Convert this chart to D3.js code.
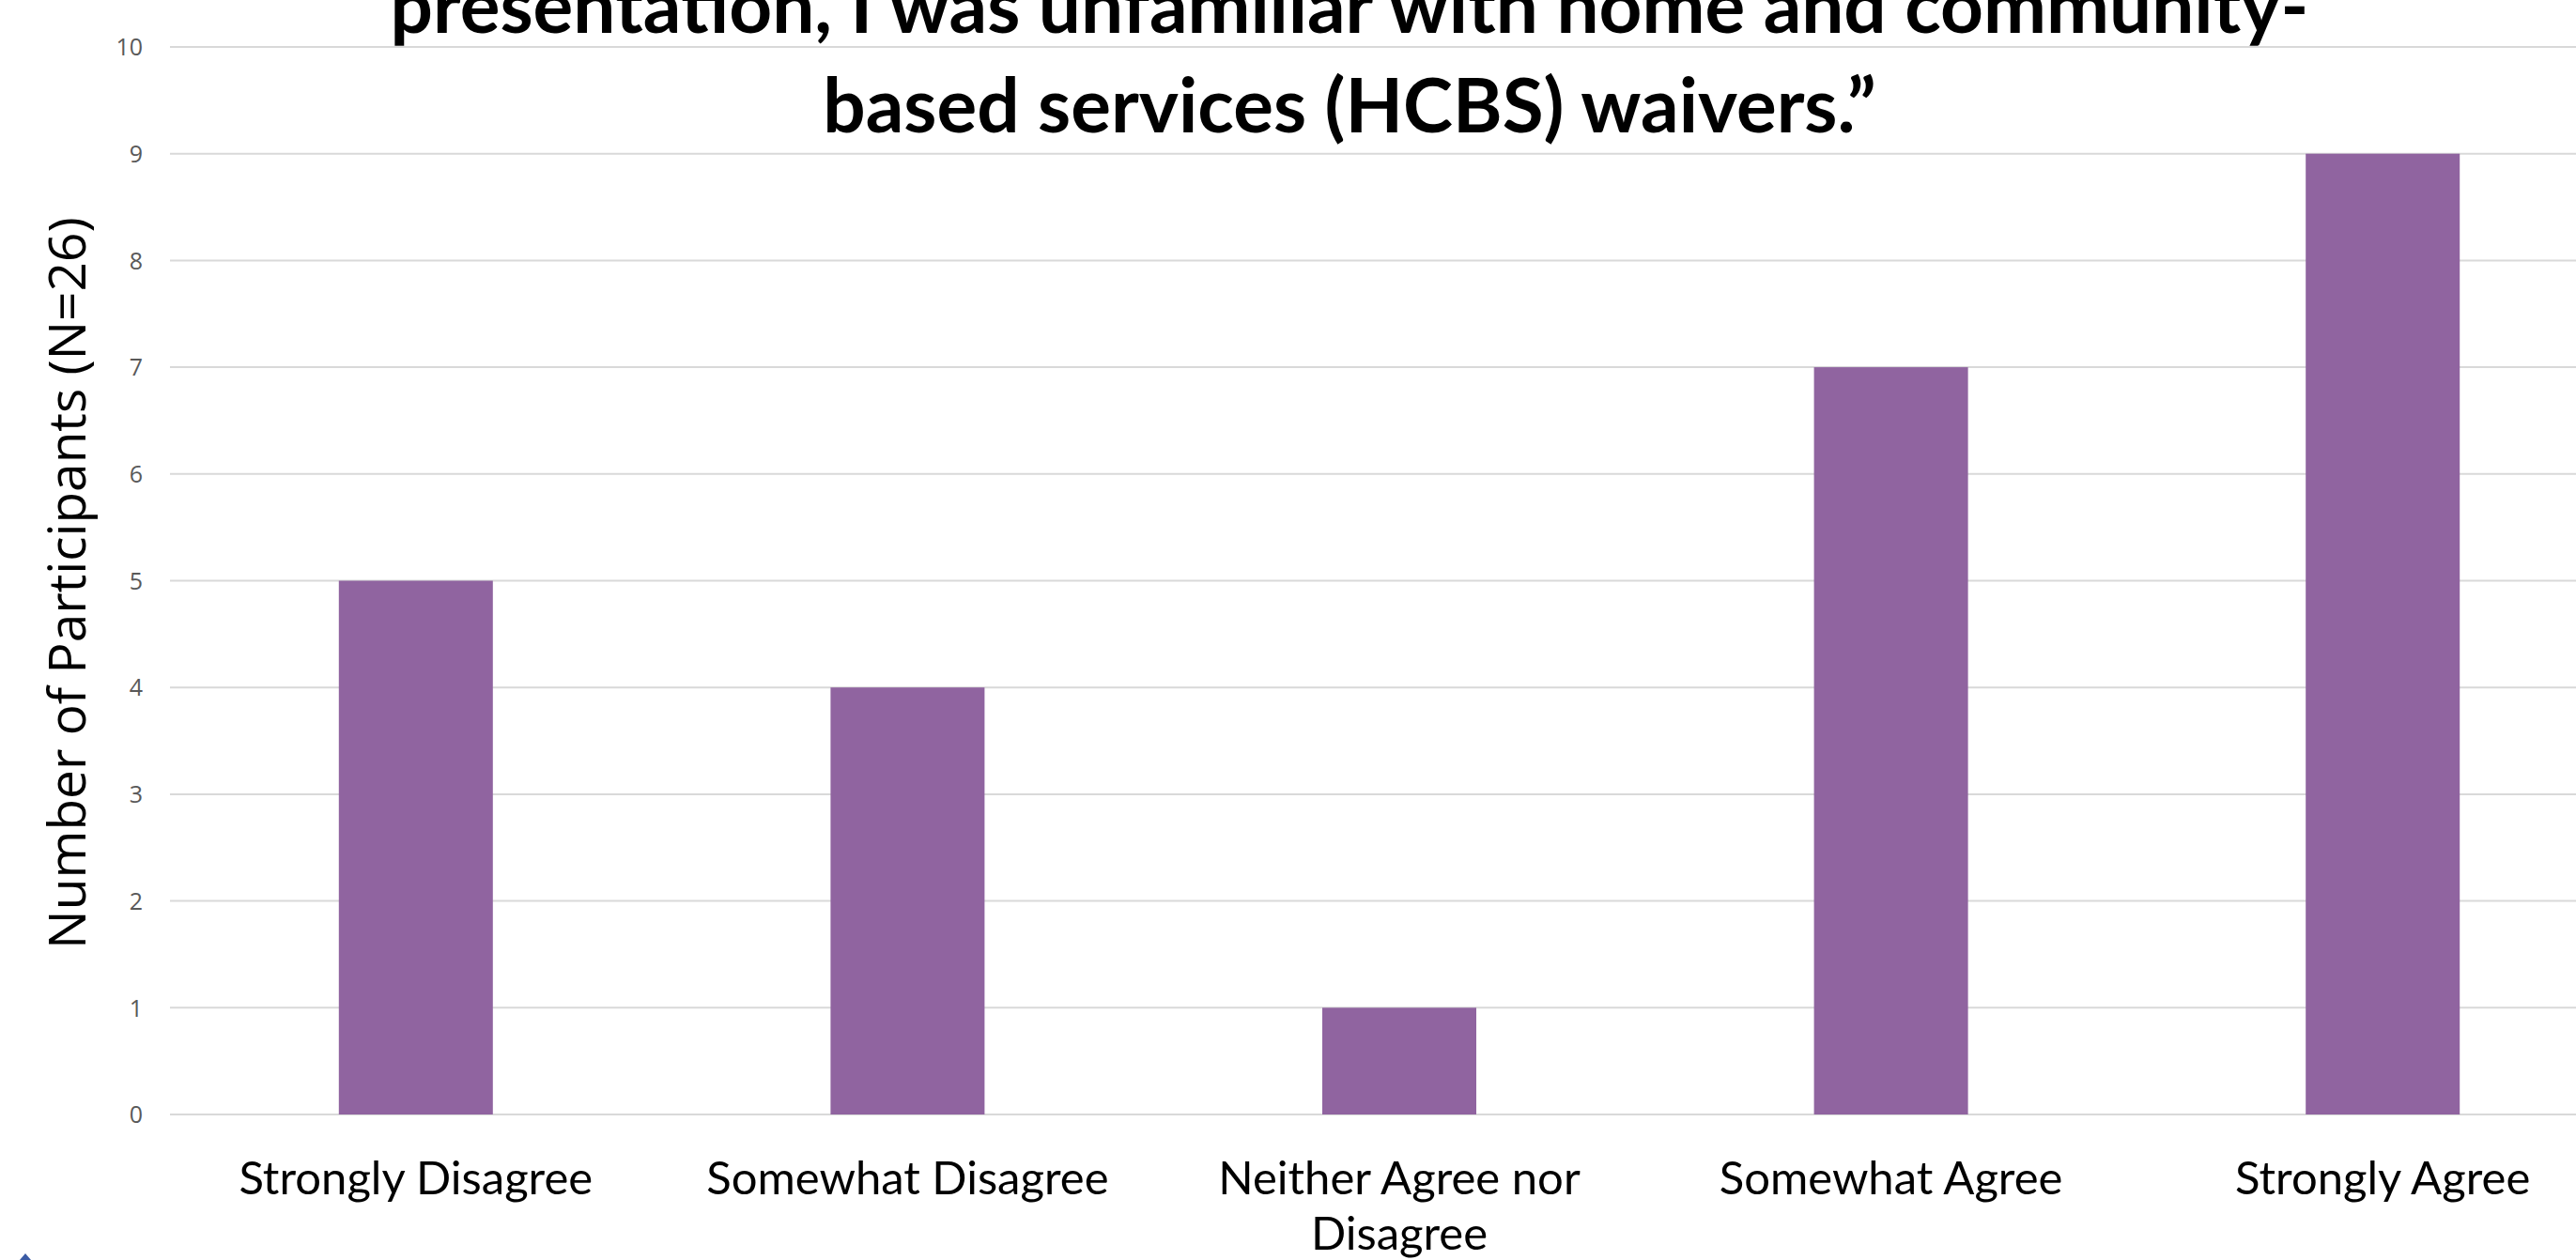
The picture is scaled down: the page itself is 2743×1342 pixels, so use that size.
<!DOCTYPE html>
<html>
<head>
<meta charset="utf-8">
<script src="https://cdn.jsdelivr.net/npm/d3@7"></script>
<style>
  html, body { margin: 0; padding: 0; background: #ffffff; overflow: hidden; }
  svg { display: block; }
</style>
</head>
<body>
<svg id="chart" width="2743" height="1342"></svg>
<script>
// ---- data ----
const categories = ["Strongly Disagree", "Somewhat Disagree", "Neither Agree nor Disagree", "Somewhat Agree", "Strongly Agree"];
const participants = [5, 4, 1, 7, 9];
const yTicks = [0, 1, 2, 3, 4, 5, 6, 7, 8, 9, 10];
const titleLines = ["presentation, I was unfamiliar with home and community-", "based services (HCBS) waivers.\u201D"];
const yAxisTitle = "Number of Participants (N=26)";

// ---- layout ----
const W = 2743, H = 1342;
const plotLeft = 181, step = 523.6;
const plotRight = plotLeft + step * categories.length;
const yTop = 50, yBottom = 1187;
const gap = 1 - 164 / step;

const svg = d3.select("#chart");

const x = d3.scaleBand()
  .domain(categories)
  .range([plotLeft, plotRight])
  .paddingInner(gap)
  .paddingOuter(gap / 2);

const y = d3.scaleLinear().domain([0, 10]).range([yBottom, yTop]);

// gridlines
const yAxis = d3.axisLeft(y).tickValues(yTicks).tickSize(0).tickPadding(0).tickFormat(d3.format("d"));
svg.append("g")
  .selectAll("line.grid")
  .data(yTicks)
  .join("line")
  .attr("class", "grid")
  .attr("x1", plotLeft)
  .attr("x2", W)
  .attr("y1", d => y(d))
  .attr("y2", d => y(d))
  .attr("stroke", "#d9d9d9")
  .attr("stroke-width", 2);

// y tick labels via axis
const gy = svg.append("g")
  .attr("transform", `translate(152,0)`)
  .call(yAxis);
gy.select(".domain").remove();
gy.selectAll("text")
  .attr("x", 0)
  .attr("dy", "0.35em")
  .attr("font-family", "'Open Sans', sans-serif")
  .attr("font-size", 25)
  .attr("fill", "#595959")
  .attr("text-anchor", "end");

// bars
svg.append("g")
  .selectAll("rect")
  .data(categories)
  .join("rect")
  .attr("x", d => x(d))
  .attr("width", x.bandwidth())
  .attr("y", (d, i) => y(participants[i]))
  .attr("height", (d, i) => y(0) - y(participants[i]))
  .attr("fill", "#9064a0");

// x labels with wrapping
const xLabelFont = "Lato, 'Open Sans', sans-serif";
const xg = svg.append("g");
categories.forEach(cat => {
  const cx = x(cat) + x.bandwidth() / 2;
  const t = xg.append("text")
    .attr("x", cx)
    .attr("y", 1272)
    .attr("text-anchor", "middle")
    .attr("font-family", xLabelFont)
    .attr("font-size", 49)
    .attr("fill", "#000000");
  const words = cat.split(" ");
  let line = [];
  let lineNo = 0;
  let tspan = t.append("tspan").attr("x", cx).attr("y", 1272);
  words.forEach(w => {
    line.push(w);
    tspan.text(line.join(" "));
    if (tspan.node().getComputedTextLength() > step && line.length > 1) {
      line.pop();
      tspan.text(line.join(" "));
      line = [w];
      lineNo += 1;
      tspan = t.append("tspan").attr("x", cx).attr("y", 1272 + lineNo * 59).text(w);
    }
  });
});

// y axis title
svg.append("text")
  .attr("transform", "translate(91,621) rotate(-90)")
  .attr("text-anchor", "middle")
  .attr("font-family", "'Open Sans', sans-serif")
  .attr("font-size", 55)
  .attr("fill", "#000000")
  .text(yAxisTitle);

// title
const titleY = [35, 141];
svg.append("g")
  .selectAll("text")
  .data(titleLines)
  .join("text")
  .attr("x", 1437)
  .attr("y", (d, i) => titleY[i])
  .attr("text-anchor", "middle")
  .attr("font-family", "Lato, 'Open Sans', sans-serif")
  .attr("font-weight", "bold")
  .attr("font-size", 80)
  .attr("fill", "#000000")
  .text(d => d);

// small slide decoration at bottom left
svg.append("path")
  .attr("d", "M21,1342 L27,1335 L33,1342 Z")
  .attr("fill", "#3b5ba5");
</script>
</body>
</html>
